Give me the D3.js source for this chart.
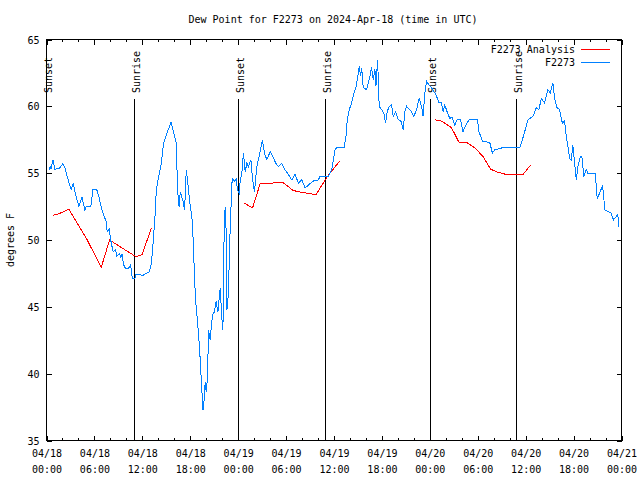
<!DOCTYPE html>
<html><head><meta charset="utf-8">
<script src="https://cdn.jsdelivr.net/npm/d3@7"></script>
<style>
body{margin:0;background:#fff}
svg text{font-family:"DejaVu Sans Mono",monospace;font-size:10px;fill:#000}
</style>
</head><body>
<svg id="chart" width="640" height="480"></svg>
<script>
// ---- data (hours since 2024-04-18 00:00 UTC, dew point degF) ----
const titleText = "Dew Point for F2273 on 2024-Apr-18 (time in UTC)";
const yLabel = "degrees F";
const seriesNames = ["F2273 Analysis", "F2273"];
const yTicks = [35, 40, 45, 50, 55, 60, 65];
const xMajorTicks = [0, 6, 12, 18, 24, 30, 36, 42, 48, 54, 60, 66, 72];
const xMinorTicks = d3.range(0, 73, 2);
const xTickDates = ["04/18","04/18","04/18","04/18","04/19","04/19","04/19","04/19","04/20","04/20","04/20","04/20","04/21"];
const xTickTimes = ["00:00","06:00","12:00","18:00","00:00","06:00","12:00","18:00","00:00","06:00","12:00","18:00","00:00"];
const sunsetHours = [0.0, 24.03, 48.07];
const sunriseHours = [11.02, 34.96, 58.9];

const f2273Obs = [
[0.29,55.2],[0.45,55.5],[0.55,55.3],[0.8,56.0],[1.05,55.3],[1.6,55.35],[2.05,55.7],[2.3,55.4],
[2.9,54.1],[3.1,53.8],[3.35,54.2],[3.7,53.25],[4.05,52.55],[4.45,53.2],[4.8,52.25],[4.96,52.5],
[5.55,52.5],[5.8,53.75],[6.3,53.75],[6.55,53.25],[6.95,52.25],[7.45,51.4],[7.6,50.6],[7.85,50.8],
[8.1,49.8],[8.35,49.1],[8.65,49.3],[8.8,48.8],[9.15,49.0],[9.3,48.7],[9.45,48.95],[9.65,48.15],
[9.87,47.9],[10.3,47.9],[10.53,48.15],[10.75,47.1],[11.05,47.1],[11.2,47.45],[12.05,47.35],[12.5,47.5],
[12.85,47.6],[13.15,48.3],[13.35,49.8],[13.6,51.9],[13.75,53.75],[14.04,54.75],[14.375,55.75],[14.66,57.25],
[15.09,58.0],[15.59,58.8],[15.9,58.1],[16.25,57.25],[16.41,53.75],[16.6,52.5],[16.75,53.6],[17.09,52.9],
[17.29,52.25],[17.5,55.25],[17.66,54.5],[17.9,53.0],[18.2,51.75],[18.41,49.5],[18.54,47.0],[18.7,45.25],
[18.9,44.0],[19.16,42.0],[19.34,40.0],[19.5,38.25],[19.59,37.25],[19.75,38.1],[19.875,39.4],[20.0,38.6],
[20.16,39.75],[20.29,43.25],[20.5,42.5],[20.6,43.25],[20.79,44.4],[21.0,44.6],[21.25,45.4],[21.46,44.6],
[21.75,46.4],[21.96,44.1],[22.09,43.25],[22.25,51.0],[22.375,52.5],[22.5,50.5],[22.59,44.75],[22.79,46.1],
[22.91,49.25],[23.09,52.25],[23.25,54.6],[23.5,54.4],[23.75,54.55],[23.91,53.75],[24.125,53.5],[24.25,54.4],
[24.46,55.0],[24.66,56.5],[24.875,55.1],[25.09,55.75],[25.29,55.5],[25.59,56.0],[25.79,54.6],[26.04,53.6],
[26.34,55.5],[26.625,56.25],[27.04,57.5],[27.29,56.5],[27.59,56.0],[28.0,56.6],[28.34,56.25],[28.71,55.75],
[29.04,55.5],[29.46,55.75],[29.875,55.25],[30.29,54.9],[30.71,54.5],[31.125,54.9],[31.54,54.25],[31.96,54.5],
[32.375,53.9],[32.79,54.1],[33.34,54.4],[34.04,54.5],[34.25,54.75],[35.29,54.75],[35.71,55.25],[36.125,56.75],
[36.34,56.9],[37.25,56.9],[37.5,57.75],[37.66,59.0],[37.91,59.75],[38.21,60.25],[38.5,61.0],[38.75,61.4],
[39.04,62.5],[39.16,63.0],[39.34,62.25],[39.46,62.9],[39.66,61.4],[40.09,61.25],[40.41,62.0],[40.71,62.9],
[40.91,62.0],[41.125,62.75],[41.25,61.5],[41.46,63.5],[41.66,60.0],[41.96,59.75],[42.25,59.5],[42.46,58.75],
[42.66,59.6],[42.91,60.0],[43.21,60.1],[43.41,59.25],[43.71,59.6],[44.04,59.0],[44.375,58.9],[44.66,58.25],
[44.875,59.6],[45.09,60.0],[45.71,59.6],[46.0,59.25],[46.34,59.75],[46.66,60.6],[46.96,60.0],[47.16,59.25],
[47.375,61.0],[47.59,61.9],[47.875,61.6],[48.21,61.4],[48.625,61.0],[48.84,60.75],[49.16,60.25],[49.46,60.25],
[49.66,59.6],[49.875,60.1],[50.21,59.5],[50.5,59.1],[50.79,59.2],[51.125,58.6],[51.41,59.0],[51.84,59.0],
[52.16,58.1],[52.46,58.55],[52.91,59.0],[53.96,59.0],[54.16,58.1],[54.59,57.4],[55.5,57.3],[55.84,56.5],
[56.125,56.75],[57.09,56.9],[59.25,56.9],[59.59,57.5],[59.875,58.1],[60.29,59.0],[60.91,59.25],[61.34,59.9],
[61.66,59.75],[61.96,60.6],[62.375,60.25],[62.79,61.25],[63.09,61.0],[63.41,61.75],[63.625,60.6],[63.91,59.9],
[64.25,59.75],[64.59,58.75],[64.875,58.9],[65.09,57.75],[65.29,57.0],[65.5,56.1],[65.71,56.0],[65.91,57.1],
[66.125,55.75],[66.34,54.5],[66.54,55.5],[66.84,56.25],[67.04,56.25],[67.29,54.75],[67.59,55.25],[67.79,55.0],
[68.71,55.0],[68.96,53.1],[69.25,53.5],[69.59,54.0],[69.75,53.6],[69.875,52.25],[70.41,52.1],[70.71,52.0],
[71.0,51.5],[71.34,51.75],[71.54,51.9],[71.66,51.0]
];

// analysis: null value marks a gap between segments
const analysisObs = [
[0.8,51.85],[1.5,51.95],[2.8,52.3],[5.1,50.0],[6.85,47.95],[7.9,50.0],[11.2,48.75],[11.95,48.9],[13.15,50.9],
[13.5,null],
[24.8,52.75],[25.8,52.4],[26.75,54.2],[29.25,54.3],[29.6,54.3],[30.9,53.7],[32.1,53.55],[33.75,53.4],
[34.9,54.5],[35.5,55.0],[36.7,55.9],
[37.0,null],
[48.62,59.0],[49.46,58.9],[50.71,58.4],[51.66,57.3],[52.59,57.3],[53.62,56.9],[54.66,56.25],[55.62,55.3],
[56.34,55.1],[57.59,54.9],[59.66,54.9],[60.62,55.6]
];

// ---- drawing ----
const svg = d3.select("#chart");
const L = 46.5, R = 621.5, T = 39.5, B = 440.5;
const x = d3.scaleLinear().domain([0, 72]).range([L, R]);
const y = d3.scaleLinear().domain([35, 65]).range([B, T]);

svg.append("text").attr("x", 333).attr("y", 23).attr("text-anchor", "middle").text(titleText);
svg.append("text").attr("transform", "translate(14,240) rotate(-90)").attr("text-anchor", "middle").text(yLabel);

// axes (ticks drawn inward)
const gB = svg.append("g").attr("transform", `translate(0,${B})`);
gB.call(d3.axisBottom(x).tickValues(xMinorTicks).tickSizeInner(-2.5).tickSizeOuter(0).tickFormat(""));
gB.call(g => g.select(".domain").remove());
const gB2 = svg.append("g").attr("transform", `translate(0,${B})`);
gB2.call(d3.axisBottom(x).tickValues(xMajorTicks).tickSizeInner(-5).tickSizeOuter(0).tickPadding(10)
  .tickFormat((d, i) => xTickDates[i]));
gB2.select(".domain").remove();
gB2.selectAll(".tick text").each(function(d, i) {
  const t = d3.select(this);
  t.text(null).attr("y", 0).attr("dy", null);
  t.append("tspan").attr("x", 0).attr("y", 16).text(xTickDates[i]);
  t.append("tspan").attr("x", 0).attr("y", 32).text(xTickTimes[i]);
});
const gT = svg.append("g").attr("transform", `translate(0,${T})`);
gT.call(d3.axisTop(x).tickValues(xMinorTicks).tickSizeInner(-2.5).tickSizeOuter(0).tickFormat(""));
gT.select(".domain").remove();
const gT2 = svg.append("g").attr("transform", `translate(0,${T})`);
gT2.call(d3.axisTop(x).tickValues(xMajorTicks).tickSizeInner(-5).tickSizeOuter(0).tickFormat(""));
gT2.select(".domain").remove();

const gL = svg.append("g").attr("transform", `translate(${L},0)`);
gL.call(d3.axisLeft(y).tickValues(yTicks).tickSizeInner(-5).tickSizeOuter(0).tickPadding(7).tickFormat(d3.format("d")));
gL.select(".domain").remove();
gL.selectAll(".tick text").attr("dy", "0.35em");
const gR = svg.append("g").attr("transform", `translate(${R},0)`);
gR.call(d3.axisRight(y).tickValues(yTicks).tickSizeInner(-5).tickSizeOuter(0).tickFormat(""));
gR.select(".domain").remove();

svg.selectAll(".tick line").attr("stroke", "#000").attr("shape-rendering", "crispEdges");
svg.selectAll(".tick text").attr("fill", "#000").style("font-family", "'DejaVu Sans Mono',monospace").style("font-size", "10px");

// sunrise / sunset markers
const sunEvents = sunsetHours.map(h => ({h, label: "Sunset"}))
  .concat(sunriseHours.map(h => ({h, label: "Sunrise"})));
sunEvents.forEach(e => {
  const px = Math.round(x(e.h) - 0.5) + 0.5;
  svg.append("line").attr("x1", px).attr("x2", px).attr("y1", 99).attr("y2", B)
    .attr("stroke", "#000").attr("stroke-width", 1).attr("shape-rendering", "crispEdges");
  svg.append("text").attr("transform", `translate(${px + 5.5},93) rotate(-90)`)
    .attr("text-anchor", "start").text(e.label);
});

// series
const line = d3.line().defined(d => d[1] !== null).x(d => x(d[0])).y(d => y(d[1]));
svg.append("path").datum(analysisObs).attr("d", line).attr("fill", "none").attr("stroke", "#ff0000")
  .attr("stroke-width", 1).attr("shape-rendering", "crispEdges");
svg.append("path").datum(f2273Obs).attr("d", line).attr("fill", "none").attr("stroke", "#0080ff")
  .attr("stroke-width", 1).attr("shape-rendering", "crispEdges");

// frame
svg.append("rect").attr("x", L).attr("y", T).attr("width", R - L).attr("height", B - T)
  .attr("fill", "none").attr("stroke", "#000").attr("shape-rendering", "crispEdges");

// legend
const legColors = ["#ff0000", "#0080ff"];
seriesNames.forEach((n, i) => {
  const ly = 49.5 + i * 13;
  svg.append("text").attr("x", 575).attr("y", ly).attr("dy", "0.35em").attr("text-anchor", "end").text(n);
  svg.append("line").attr("x1", 581).attr("x2", 610).attr("y1", ly).attr("y2", ly)
    .attr("stroke", legColors[i]).attr("stroke-width", 1).attr("shape-rendering", "crispEdges");
});
</script>
</body></html>
